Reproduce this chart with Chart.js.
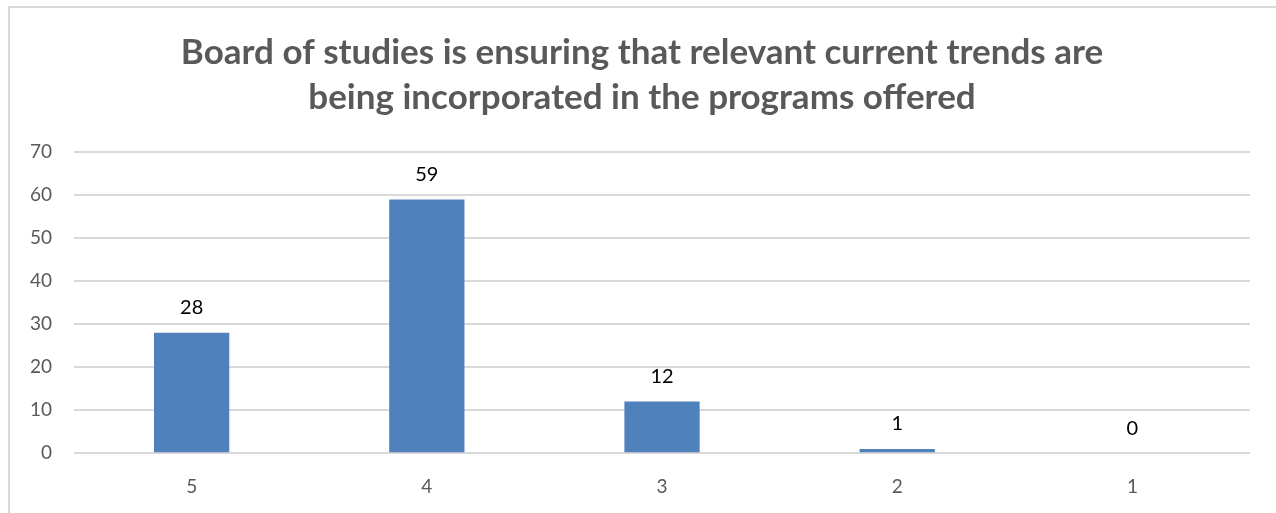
<!DOCTYPE html>
<html>
<head>
<meta charset="utf-8">
<script src="https://cdn.jsdelivr.net/npm/chart.js@4.4.0/dist/chart.umd.min.js"></script>
<style>
  html, body { margin: 0; padding: 0; background: #fff; overflow: hidden; }
  #frame { position: absolute; left: 8px; top: 6px; width: 1300px; height: 530px; border: 2px solid #d9d9d9; }
  #wrap { position: absolute; left: 0; top: 0; width: 1276px; height: 513px; }
</style>
</head>
<body>
<div id="frame"></div>
<div id="wrap"><canvas id="myChart" width="1276" height="513"></canvas></div>
<script>
var categories = ['5', '4', '3', '2', '1'];
var counts = [28, 59, 12, 1, 0];
var titleLines = ['Board of studies is ensuring that relevant current trends are', 'being incorporated in the programs offered'];

var fontFamily = 'Lato, "Open Sans", sans-serif';

// draws the value above every bar
var valueLabels = {
  id: 'valueLabels',
  afterLayout: function (chart) {
    // title sits a bit right of the plot centre in the original
    if (chart.titleBlock) {
      chart.titleBlock.left += 13;
      chart.titleBlock.right += 13;
    }
  },
  afterDatasetsDraw: function (chart) {
    var ctx = chart.ctx;
    var meta = chart.getDatasetMeta(0);
    ctx.save();
    ctx.fillStyle = '#000';
    ctx.font = '20px ' + fontFamily;
    ctx.textAlign = 'center';
    ctx.textBaseline = 'bottom';
    meta.data.forEach(function (bar, i) {
      ctx.fillText(counts[i], bar.x, bar.y - 15);
    });
    ctx.restore();
  }
};

var ctx = document.getElementById('myChart').getContext('2d');
var myChart = new Chart(ctx, {
  type: 'bar',
  data: {
    labels: categories,
    datasets: [{
      data: counts,
      backgroundColor: '#4f81bd',
      borderWidth: 0,
      barPercentage: 0.32,
      categoryPercentage: 1
    }]
  },
  options: {
    responsive: false,
    animation: false,
    layout: { padding: { left: 8, right: 26, top: 30, bottom: -7 } },
    plugins: {
      legend: { display: false },
      tooltip: { enabled: false },
      title: {
        display: true,
        text: titleLines,
        color: '#595959',
        font: { family: fontFamily, size: 35, weight: 'bold', lineHeight: 1.29 },
        padding: { top: 0, bottom: 32 }
      }
    },
    scales: {
      x: {
        grid: { display: false, drawTicks: false },
        border: { display: false },
        ticks: { color: '#595959', font: { family: fontFamily, size: 19 }, padding: 22 }
      },
      y: {
        min: 0,
        max: 70,
        ticks: { stepSize: 10, color: '#595959', font: { family: fontFamily, size: 19 }, padding: 22 },
        grid: { color: '#d9d9d9', lineWidth: 2, drawTicks: false },
        border: { display: false }
      }
    }
  },
  plugins: [valueLabels]
});
</script>
</body>
</html>
